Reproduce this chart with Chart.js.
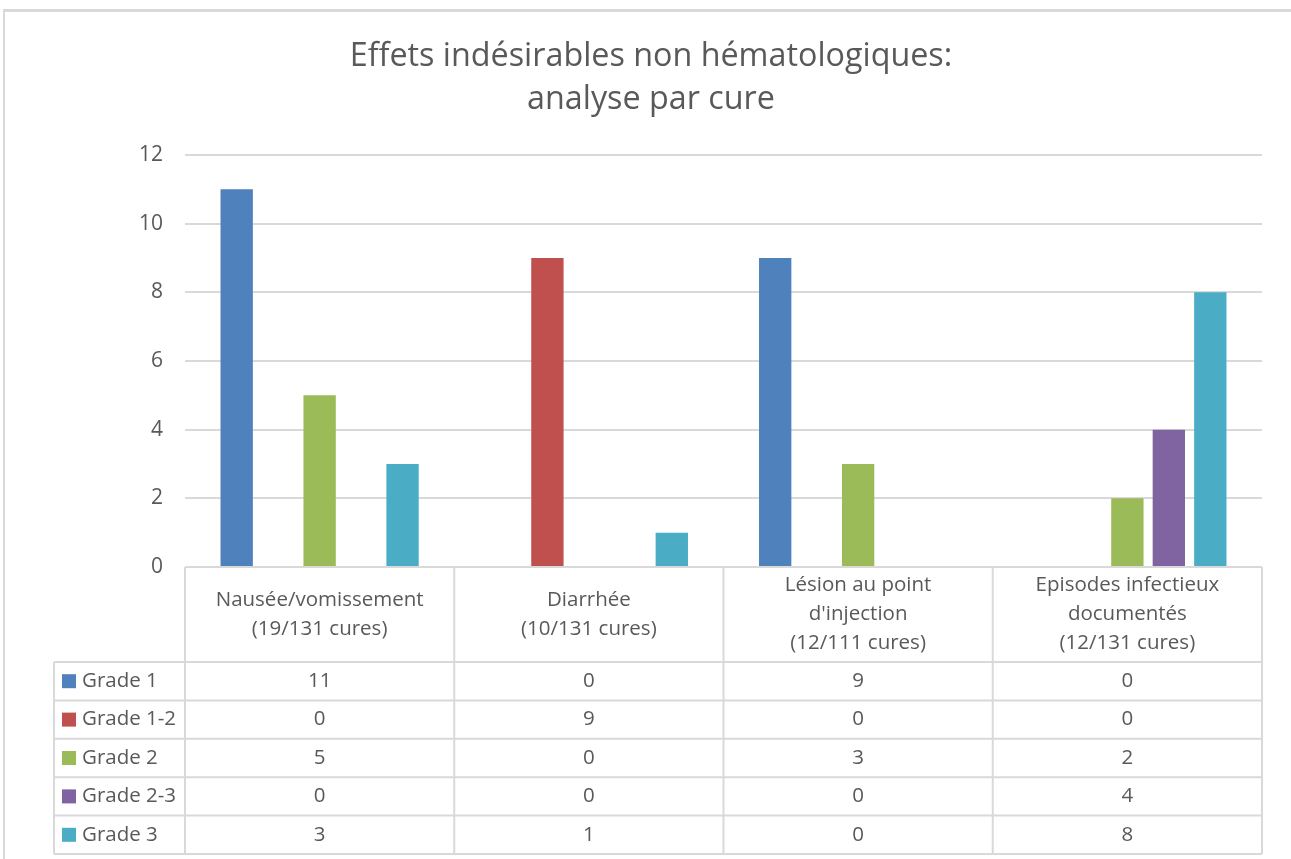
<!DOCTYPE html>
<html>
<head>
<meta charset="utf-8">
<script src="https://cdn.jsdelivr.net/npm/chart.js@4/dist/chart.umd.min.js"></script>
<style>
  html, body { margin: 0; padding: 0; background: #ffffff; }
  #wrap { position: relative; width: 1291px; height: 859px; overflow: hidden; }
  #frame { position: absolute; left: 3px; top: 9px; width: 1400px; height: 900px;
           border-top: 3px solid #d9d9d9; border-left: 2px solid #d9d9d9; pointer-events: none; }
  canvas { position: absolute; left: 0; top: 0; }
</style>
</head>
<body>
<div id="wrap">
  <canvas id="c" width="1291" height="859"></canvas>
  <div id="frame"></div>
</div>
<script>
// ---- data ----
const titleLines = ['Effets indésirables non hématologiques:', 'analyse par cure'];
const categories = [
  ['Nausée/vomissement', '(19/131 cures)'],
  ['Diarrhée', '(10/131 cures)'],
  ['Lésion au point', "d'injection", '(12/111 cures)'],
  ['Episodes infectieux', 'documentés', '(12/131 cures)']
];
const seriesNames = ['Grade 1', 'Grade 1-2', 'Grade 2', 'Grade 2-3', 'Grade 3'];
const grade1   = [11, 0, 9, 0];
const grade1_2 = [0, 9, 0, 0];
const grade2   = [5, 0, 3, 2];
const grade2_3 = [0, 0, 0, 4];
const grade3   = [3, 1, 0, 8];
const yTicks = [0, 2, 4, 6, 8, 10, 12];

const seriesValues = [grade1, grade1_2, grade2, grade2_3, grade3];
const seriesColors = ['#4F81BD', '#C0504D', '#9BBB59', '#8064A2', '#4BACC6'];

const FONT = "'Open Sans', 'Noto Sans', sans-serif";
const TEXT = '#595959';
const LINE = '#d9d9d9';

// data table drawn beneath the plot, aligned on the x scale
const dataTablePlugin = {
  id: 'dataTable',
  afterDraw(chart, args, opts) {
    const ctx = chart.ctx;
    const xs = chart.scales.x;
    const area = chart.chartArea;
    const n = chart.data.labels.length;
    const colW = (area.right - area.left) / n;
    const edges = [];
    for (let i = 0; i < n; i++) edges.push(xs.getPixelForValue(i) - colW / 2);
    edges.push(xs.getPixelForValue(n - 1) + colW / 2);
    const top = area.bottom;
    const headBottom = top + opts.headerHeight;
    const ds = chart.data.datasets;
    const tableBottom = headBottom + ds.length * opts.rowHeight;
    const left = opts.legendLeft;

    ctx.save();
    ctx.strokeStyle = LINE;
    ctx.lineWidth = 2;
    ctx.beginPath();
    ctx.moveTo(edges[0], top); ctx.lineTo(edges[n], top);
    for (let k = 0; k <= ds.length; k++) {
      const y = headBottom + k * opts.rowHeight;
      ctx.moveTo(left, y); ctx.lineTo(edges[n], y);
    }
    for (let i = 0; i <= n; i++) {
      ctx.moveTo(edges[i], top); ctx.lineTo(edges[i], tableBottom);
    }
    ctx.moveTo(left, headBottom); ctx.lineTo(left, tableBottom);
    ctx.stroke();

    ctx.fillStyle = TEXT;
    ctx.font = opts.fontSize + 'px ' + FONT;
    ctx.textAlign = 'center';
    ctx.textBaseline = 'middle';
    // header
    chart.data.labels.forEach((lab, i) => {
      const cx = xs.getPixelForValue(i);
      const lines = Array.isArray(lab) ? lab : [lab];
      const cy = top + opts.headerHeight / 2;
      lines.forEach((t, j) => {
        ctx.fillText(t, cx, cy + (j - (lines.length - 1) / 2) * opts.headerLine);
      });
    });
    // rows
    ds.forEach((d, s) => {
      const cy = headBottom + (s + 0.5) * opts.rowHeight;
      ctx.fillStyle = d.backgroundColor;
      ctx.fillRect(left + 8, cy - 7, 14, 14);
      ctx.fillStyle = TEXT;
      ctx.textAlign = 'left';
      ctx.fillText(d.label, left + 28, cy);
      ctx.textAlign = 'center';
      d.data.forEach((v, i) => {
        ctx.fillText(String(v), xs.getPixelForValue(i), cy);
      });
    });
    ctx.restore();
  }
};

new Chart(document.getElementById('c'), {
  type: 'bar',
  data: {
    labels: categories,
    datasets: seriesNames.map((name, i) => ({
      label: name,
      data: seriesValues[i],
      backgroundColor: seriesColors[i],
      borderWidth: 0,
      categoryPercentage: 0.77,
      barPercentage: 0.78
    }))
  },
  plugins: [dataTablePlugin],
  options: {
    responsive: false,
    animation: false,
    layout: { padding: { left: 40, right: 29, top: 0, bottom: 292 } },
    plugins: {
      legend: { display: false },
      tooltip: { enabled: false },
      title: {
        display: true,
        text: titleLines,
        color: TEXT,
        font: { family: FONT, size: 32.3, weight: 'normal', lineHeight: 43 / 32.3 },
        padding: { top: 35, bottom: 34 }
      },
      dataTable: { headerHeight: 95, rowHeight: 38.4, legendLeft: 54, fontSize: 20.5, headerLine: 29 }
    },
    scales: {
      x: { display: false },
      y: {
        min: 0, max: 12,
        afterFit(scale) { scale.width = 145; },
        afterBuildTicks(scale) { scale.ticks = yTicks.map(v => ({ value: v })); },
        ticks: { color: TEXT, font: { family: FONT, size: 21 }, padding: 22 },
        grid: { color: LINE, lineWidth: 2, drawTicks: false },
        border: { display: false }
      }
    }
  }
});
</script>
</body>
</html>
